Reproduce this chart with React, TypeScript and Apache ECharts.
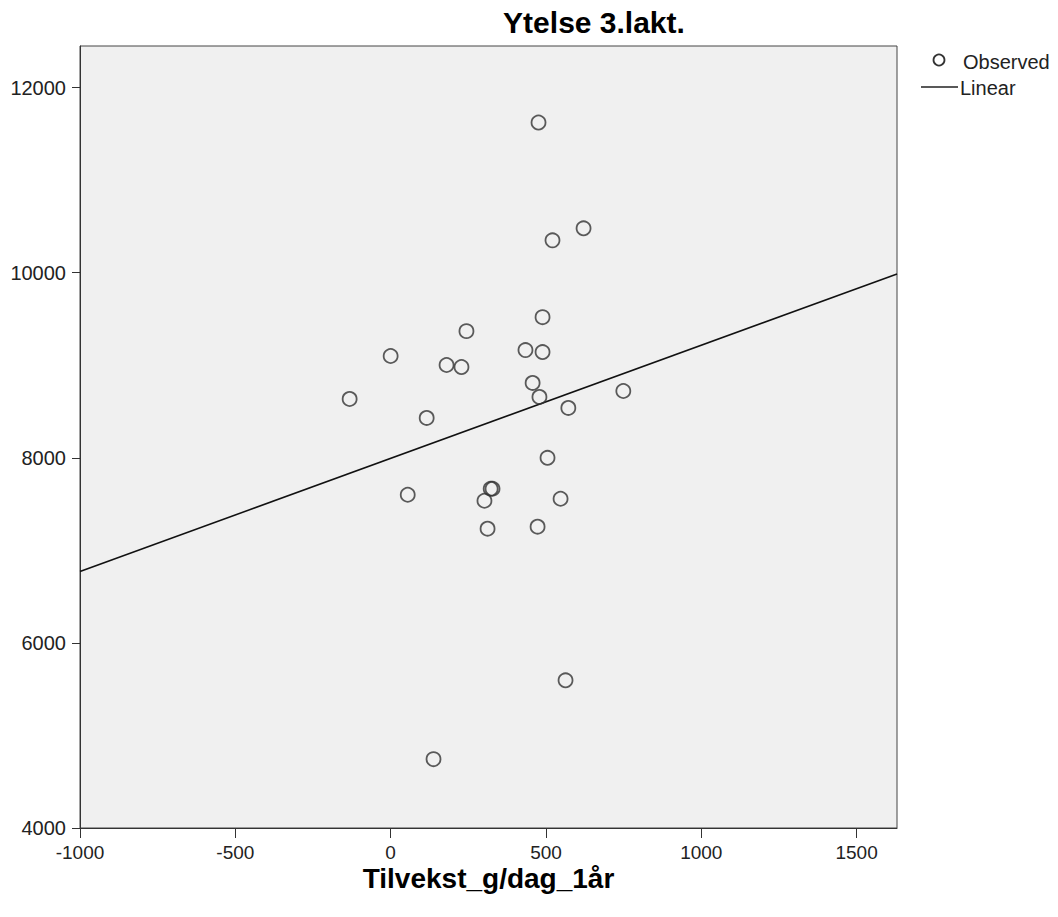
import React, { useEffect, useRef } from "react";
import * as echarts from "echarts";

const titleText = "Ytelse 3.lakt.";
const xAxisName = "Tilvekst_g/dag_1år";
const legendNames = ["Observed", "Linear"];

const xTicks = [-1000, -500, 0, 500, 1000, 1500];
const yTicks = [4000, 6000, 8000, 10000, 12000];

const tilvekst = [
  476, 621, 521, 489, 244, 0, 434, 489, 180, 228, -132, 457, 479, 749, 572,
  116, 505, 55, 322, 328, 302, 547, 473, 312, 563, 138,
];
const ytelse = [
  11623, 10480, 10350, 9520, 9369, 9100, 9164, 9143, 9003, 8981, 8636, 8809,
  8658, 8722, 8539, 8431, 8000, 7601, 7666, 7666, 7536, 7558, 7256, 7234,
  5596, 4744,
];

const fitIntercept = 7994;
const fitSlope = 1.223;
const xRange = [-1000, 1630];
const yRange = [4000, 12450];

export default function App() {
  const ref = useRef<HTMLDivElement>(null);
  useEffect(() => {
    if (!ref.current) return;
    const chart = echarts.init(ref.current, null, { renderer: "svg" });
    const scatterData = tilvekst.map((x, i) => [x, ytelse[i]]);
    const lineData = xRange.map((x) => [x, fitIntercept + fitSlope * x]);
    const labelFont = "Liberation Sans, Arial, sans-serif";
    chart.setOption({
      animation: false,
      backgroundColor: "#ffffff",
      grid: {
        left: 80,
        top: 46,
        right: 161,
        bottom: 89,
        show: true,
        backgroundColor: "#f0f0f0",
        borderColor: "#444444",
        borderWidth: 1,
      },
      xAxis: {
        type: "value",
        min: xRange[0],
        max: xRange[1],
        name: xAxisName,
        nameLocation: "middle",
        nameGap: 36,
        nameMoveOverlap: false,
        nameTextStyle: {
          fontFamily: labelFont,
          fontWeight: "bold",
          fontSize: 28,
          color: "#000",
        },
        axisLine: { show: true, onZero: false, lineStyle: { color: "#333", width: 1 } },
        axisTick: {
          show: true,
          length: 10,
          customValues: xTicks,
          lineStyle: { color: "#333" },
        },
        axisLabel: {
          customValues: xTicks,
          formatter: (v: number) => String(v),
          fontFamily: labelFont,
          fontSize: 19,
          color: "#222",
          margin: 15,
        },
        splitLine: { show: false },
      },
      yAxis: {
        type: "value",
        min: yRange[0],
        max: yRange[1],
        axisLine: { show: true, onZero: false, lineStyle: { color: "#333", width: 1 } },
        axisTick: {
          show: true,
          length: 8,
          customValues: yTicks,
          lineStyle: { color: "#333" },
        },
        axisLabel: {
          customValues: yTicks,
          formatter: (v: number) => String(v),
          fontFamily: labelFont,
          fontSize: 20,
          color: "#222",
          margin: 14,
        },
        splitLine: { show: false },
      },
      graphic: [
        {
          type: "text",
          x: 594,
          y: 22,
          style: {
            text: titleText,
            fontFamily: labelFont,
            fontWeight: "bold",
            fontSize: 30,
            fill: "#000",
            textAlign: "center",
            textVerticalAlign: "middle",
          },
        },
        {
          type: "circle",
          shape: { cx: 939, cy: 60, r: 5.5 },
          style: { fill: "none", stroke: "#333", lineWidth: 1.8 },
        },
        {
          type: "text",
          x: 963,
          y: 62,
          style: {
            text: legendNames[0],
            fontFamily: labelFont,
            fontSize: 20,
            fill: "#222",
            textVerticalAlign: "middle",
          },
        },
        {
          type: "line",
          shape: { x1: 921, y1: 87, x2: 958, y2: 87 },
          style: { stroke: "#222", lineWidth: 1.6 },
        },
        {
          type: "text",
          x: 960,
          y: 88,
          style: {
            text: legendNames[1],
            fontFamily: labelFont,
            fontSize: 20,
            fill: "#222",
            textVerticalAlign: "middle",
          },
        },
      ],
      series: [
        {
          name: legendNames[0],
          type: "scatter",
          data: scatterData,
          symbol: "circle",
          symbolSize: 14,
          itemStyle: { color: "transparent", borderColor: "#333", borderWidth: 1.8 },
          z: 3,
        },
        {
          name: legendNames[1],
          type: "line",
          data: lineData,
          showSymbol: false,
          symbol: "none",
          lineStyle: { color: "#111", width: 1.6 },
          z: 2,
        },
      ],
    });
    return () => chart.dispose();
  }, []);
  return (
    <div
      ref={ref}
      style={{ position: "absolute", left: 0, top: 0, width: 1058, height: 917 }}
    />
  );
}
